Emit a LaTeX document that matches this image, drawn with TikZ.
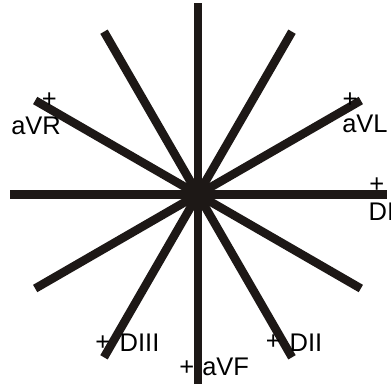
\documentclass[tikz,border=0pt]{standalone}
\usepackage{fontspec}
\setmainfont{Liberation Sans}
\usetikzlibrary{calc}
\definecolor{axiscol}{RGB}{29,24,22}
\tikzset{
  axis/.style={line width=8.5pt, draw=axiscol, line cap=butt},
  lbl/.style={inner sep=0pt, outer sep=0pt, anchor=base west, font=\fontsize{25.5}{30}\selectfont, text=black},
  plus/.style={inner sep=0pt, outer sep=0pt, anchor=base, font=\fontsize{25.5}{30}\selectfont, text=black}
}
\begin{document}
\begin{tikzpicture}[x=1pt,y=-1pt]
\clip (0,0) rectangle (391,383);
\fill[white] (0,0) rectangle (391,383);
\coordinate (O) at (198,194.5);
% axis end points
\coordinate (Vt) at (198,3);
\coordinate (Vb) at (198,384);
\coordinate (Hl) at (10,194.5);
\coordinate (Hr) at (386.5,194.5);
\foreach \n/\a in {A/30,B/60,C/120,D/150}{
  \coordinate (\n1) at ($(O)+(\a:188)$);
  \coordinate (\n2) at ($(O)+(\a+180:188)$);
}
\draw[axis] (Vt) -- (Vb);
\draw[axis] (Hl) -- (Hr);
\foreach \n in {A,B,C,D}{ \draw[axis] (\n1) -- (\n2); }
% labels
\node[plus] (pVR) at (49.3,107.3) {+};
\node[lbl] (tVR) at (11.3,134.3) {aVR};
\node[plus] (pVL) at (350,107.3) {+};
\node[lbl] (tVL) at (342.3,132.5) {aVL};
\node[plus] (pDI) at (376.7,192.3) {+};
\node[lbl] (tDI) at (368.7,220.5) {DI};
\node[plus] (pD3) at (102.7,350.7) {+};
\node[lbl] (tD3) at (119.7,351.7) {DIII};
\node[plus] (pVF) at (186.7,375.7) {+};
\node[lbl] (tVF) at (202.3,375.2) {aVF};
\node[plus] (pD2) at (273.3,349.5) {+};
\node[lbl] (tD2) at (289.7,351.7) {DII};
\end{tikzpicture}
\end{document}
